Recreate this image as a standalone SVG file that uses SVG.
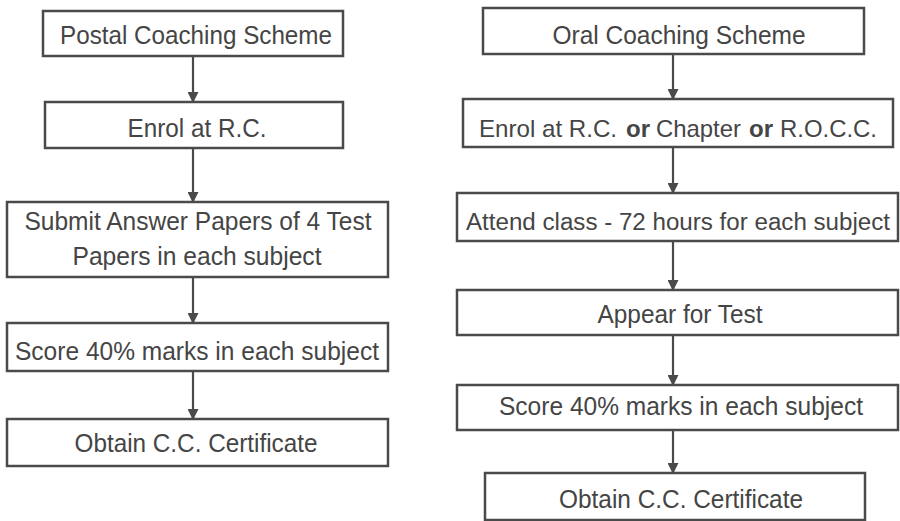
<svg xmlns="http://www.w3.org/2000/svg" width="900" height="521" viewBox="0 0 900 521">
<style>
.box rect{fill:#fff;stroke:#4a4a4a;stroke-width:2.5}
text{font-family:"Liberation Sans",Arial,sans-serif;font-size:26px;fill:#454545;text-anchor:middle}
text.s{text-anchor:start;font-size:24px}
text.m{font-size:23.5px}
.b{font-weight:bold}
.conn line{stroke:#4a4a4a;stroke-width:2.2}
</style>
<defs>
<marker id="ah" viewBox="0 0 10 10" refX="9" refY="5" markerWidth="5" markerHeight="5" orient="auto" markerUnits="strokeWidth">
<path d="M0,0 L10,5 L0,10 z" fill="#4a4a4a"/>
</marker>
</defs>
<rect width="900" height="521" fill="#fff"/>
<g class="conn">
<line x1="193" y1="56" x2="193" y2="102" marker-end="url(#ah)"/>
<line x1="193" y1="148" x2="193" y2="202" marker-end="url(#ah)"/>
<line x1="193" y1="277" x2="193" y2="323" marker-end="url(#ah)"/>
<line x1="193" y1="371" x2="193" y2="419" marker-end="url(#ah)"/>
<line x1="673" y1="54" x2="673" y2="99" marker-end="url(#ah)"/>
<line x1="673" y1="147" x2="673" y2="193" marker-end="url(#ah)"/>
<line x1="673" y1="241" x2="673" y2="290" marker-end="url(#ah)"/>
<line x1="673" y1="335" x2="673" y2="385" marker-end="url(#ah)"/>
<line x1="673" y1="430" x2="673" y2="473" marker-end="url(#ah)"/>
</g>
<g id="p1" class="box"><rect x="43" y="11" width="300" height="45"/><text x="196" y="44" textLength="272" lengthAdjust="spacingAndGlyphs">Postal Coaching Scheme</text></g>
<g id="p2" class="box"><rect x="45" y="102" width="298" height="46"/><text x="197" y="137" textLength="139" lengthAdjust="spacingAndGlyphs">Enrol at R.C.</text></g>
<g id="p3" class="box"><rect x="7" y="202" width="381" height="75"/><text x="198" y="230" textLength="347" lengthAdjust="spacingAndGlyphs">Submit Answer Papers of 4 Test</text><text x="197" y="265" textLength="249" lengthAdjust="spacingAndGlyphs">Papers in each subject</text></g>
<g id="p4" class="box"><rect x="7" y="323" width="381" height="48"/><text x="197" y="360" textLength="364" lengthAdjust="spacingAndGlyphs">Score 40% marks in each subject</text></g>
<g id="p5" class="box"><rect x="7" y="419" width="381" height="47"/><text x="196" y="452" textLength="243" lengthAdjust="spacingAndGlyphs">Obtain C.C. Certificate</text></g>
<g id="o1" class="box"><rect x="483" y="8" width="381" height="46"/><text x="679" y="44" textLength="253" lengthAdjust="spacingAndGlyphs">Oral Coaching Scheme</text></g>
<g id="o2" class="box"><rect x="463" y="99" width="430" height="48"/>
<text class="s" x="479" y="137" textLength="138" lengthAdjust="spacingAndGlyphs">Enrol at R.C.</text>
<text class="s b" x="626" y="137" textLength="24" lengthAdjust="spacingAndGlyphs">or</text>
<text class="s" x="656" y="137" textLength="85" lengthAdjust="spacingAndGlyphs">Chapter</text>
<text class="s b" x="749" y="137" textLength="24" lengthAdjust="spacingAndGlyphs">or</text>
<text class="s" x="780" y="137" textLength="97" lengthAdjust="spacingAndGlyphs">R.O.C.C.</text>
</g>
<g id="o3" class="box"><rect x="457" y="193" width="441" height="48"/><text class="m" x="678" y="230" textLength="424" lengthAdjust="spacingAndGlyphs">Attend class - 72 hours for each subject</text></g>
<g id="o4" class="box"><rect x="457" y="290" width="441" height="45"/><text x="680" y="323" textLength="165" lengthAdjust="spacingAndGlyphs">Appear for Test</text></g>
<g id="o5" class="box"><rect x="457" y="385" width="441" height="45"/><text x="681" y="415" textLength="364" lengthAdjust="spacingAndGlyphs">Score 40% marks in each subject</text></g>
<g id="o6" class="box"><rect x="485" y="473" width="380" height="47"/><text x="681" y="508" textLength="244" lengthAdjust="spacingAndGlyphs">Obtain C.C. Certificate</text></g>
</svg>
